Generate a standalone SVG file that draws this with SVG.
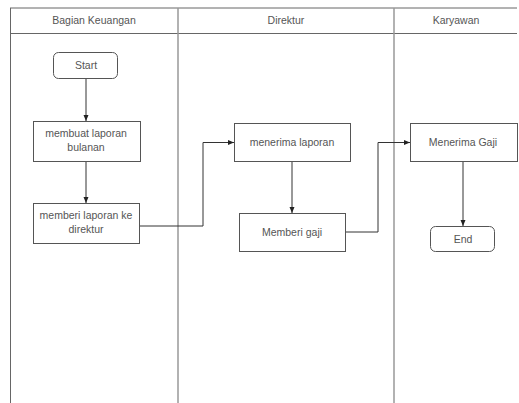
<svg xmlns="http://www.w3.org/2000/svg" width="519" height="403" viewBox="0 0 519 403">
<style>
text{font-family:"Liberation Sans",Arial,sans-serif;font-size:10.5px;fill:#555;text-anchor:middle}
.box{fill:#fff;stroke:#555;stroke-width:1}
.lane{stroke:#999;stroke-width:1.5;fill:none}
.hdr{stroke:#666;stroke-width:1;fill:none}
.conn{stroke:#333;stroke-width:1;fill:none}
</style>
<defs>
<marker id="arr" markerWidth="6" markerHeight="6" refX="6" refY="3" orient="auto" markerUnits="userSpaceOnUse">
<path d="M0,0.5 L6,3 L0,5.5 Z" fill="#222"/>
</marker>
</defs>
<rect width="519" height="403" fill="#fff"/>
<g id="pool">
<line class="hdr" x1="10" y1="8" x2="517" y2="8"/>
<line class="hdr" x1="10" y1="33.5" x2="517" y2="33.5"/>
<line class="hdr" x1="10.5" y1="8" x2="10.5" y2="403"/>
<line class="lane" x1="178" y1="8" x2="178" y2="403"/>
<line class="lane" x1="394" y1="8" x2="394" y2="403"/>
<text x="94" y="24">Bagian Keuangan</text>
<text x="286" y="24">Direktur</text>
<text x="456" y="24">Karyawan</text>
</g>
<g id="connectors">
<line class="conn" x1="86" y1="78" x2="86" y2="121" marker-end="url(#arr)"/>
<line class="conn" x1="86" y1="162" x2="86" y2="203" marker-end="url(#arr)"/>
<polyline class="conn" points="139,226 203,226 203,142.5 234,142.5" marker-end="url(#arr)"/>
<line class="conn" x1="292" y1="162" x2="292" y2="213" marker-end="url(#arr)"/>
<polyline class="conn" points="345,232 378,232 378,142.5 410,142.5" marker-end="url(#arr)"/>
<line class="conn" x1="463" y1="162" x2="463" y2="226" marker-end="url(#arr)"/>
</g>
<g id="start">
<rect class="box" x="53.5" y="52.5" width="64" height="26" rx="5"/>
<text x="86" y="69">Start</text>
</g>
<g id="membuat">
<rect class="box" x="33.5" y="121.5" width="107" height="40"/>
<text x="86" y="137">membuat laporan</text>
<text x="86" y="151">bulanan</text>
</g>
<g id="memberi-laporan">
<rect class="box" x="33.5" y="203.5" width="106" height="40"/>
<text x="86" y="219">memberi laporan ke</text>
<text x="86" y="233">direktur</text>
</g>
<g id="menerima-laporan">
<rect class="box" x="234.5" y="123.5" width="116" height="38"/>
<text x="292" y="146">menerima laporan</text>
</g>
<g id="memberi-gaji">
<rect class="box" x="239.5" y="213.5" width="106" height="38"/>
<text x="292" y="236">Memberi gaji</text>
</g>
<g id="menerima-gaji">
<rect class="box" x="410.5" y="123.5" width="107" height="38"/>
<text x="463" y="146">Menerima Gaji</text>
</g>
<g id="end">
<rect class="box" x="430.5" y="226.5" width="64" height="25" rx="5"/>
<text x="463" y="243">End</text>
</g>
</svg>
